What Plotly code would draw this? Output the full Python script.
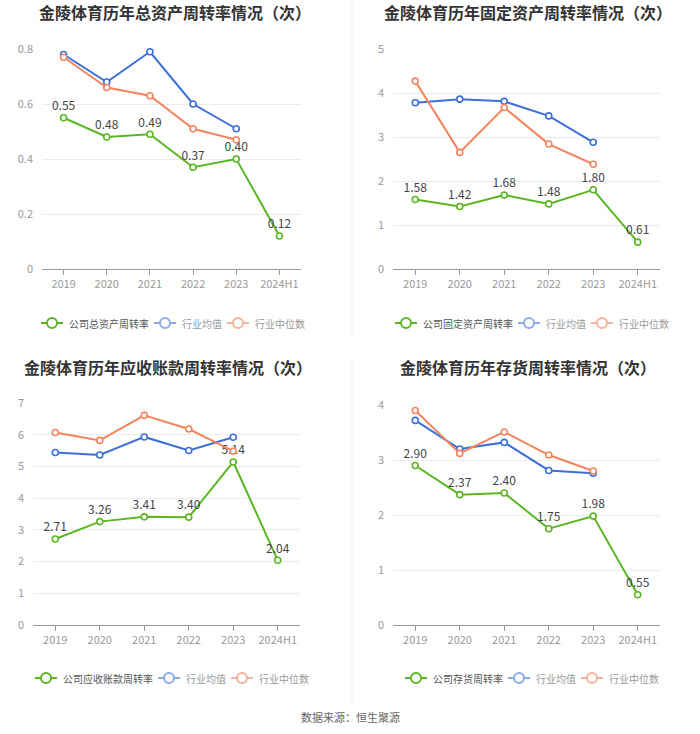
import plotly.graph_objects as go

categories = ["2019", "2020", "2021", "2022", "2023", "2024H1"]
ind_categories = ["2019", "2020", "2021", "2022", "2023"]

# Chart 1: total asset turnover
total_company = [0.55, 0.48, 0.49, 0.37, 0.40, 0.12]
total_avg = [0.78, 0.68, 0.79, 0.60, 0.51]
total_median = [0.77, 0.66, 0.63, 0.51, 0.47]

# Chart 2: fixed asset turnover
fixed_company = [1.58, 1.42, 1.68, 1.48, 1.80, 0.61]
fixed_avg = [3.78, 3.86, 3.81, 3.48, 2.88]
fixed_median = [4.27, 2.65, 3.67, 2.84, 2.38]

# Chart 3: receivables turnover
recv_company = [2.71, 3.26, 3.41, 3.40, 5.14, 2.04]
recv_avg = [5.44, 5.36, 5.93, 5.50, 5.92]
recv_median = [6.07, 5.82, 6.61, 6.18, 5.48]

# Chart 4: inventory turnover
inv_company = [2.90, 2.37, 2.40, 1.75, 1.98, 0.55]
inv_avg = [3.72, 3.20, 3.32, 2.81, 2.76]
inv_median = [3.90, 3.12, 3.51, 3.09, 2.80]

titles = ["金陵体育历年总资产周转率情况（次）", "金陵体育历年固定资产周转率情况（次）",
          "金陵体育历年应收账款周转率情况（次）", "金陵体育历年存货周转率情况（次）"]
company_names = ["公司总资产周转率", "公司固定资产周转率", "公司应收账款周转率", "公司存货周转率"]
industry_names = ["行业均值", "行业中位数"]
y_ranges = [[0, 0.8], [0, 5], [0, 7], [0, 4]]
y_dticks = [0.2, 1, 1, 1]

GREEN = "#5bb623"
BLUE = "#3c6fd9"
ORANGE = "#f2845e"
BLUE_L = "#8eaaeb"
ORANGE_L = "#f6b29a"
FONT = "Noto Sans CJK SC, Noto Sans, sans-serif"

W, H = 700, 734
def fx(px): return px / W
def fy(py): return 1 - py / H

panels = [
    dict(x0=42, x1=301, yt=49, yb=269, tx=175, ty=12, lx=41, ly=323),
    dict(x0=393, x1=660, yt=49, yb=269, tx=528, ty=12, lx=395, ly=323),
    dict(x0=33, x1=300, yt=403, yb=625, tx=168, ty=367, lx=35, ly=678),
    dict(x0=393, x1=660, yt=405, yb=625, tx=528, ty=367, lx=405, ly=678),
]

series = [
    (total_company, total_avg, total_median),
    (fixed_company, fixed_avg, fixed_median),
    (recv_company, recv_avg, recv_median),
    (inv_company, inv_avg, inv_median),
]

fig = go.Figure()
annotations = []
shapes = []
layout = dict(
    width=W, height=H, margin=dict(l=0, r=0, t=0, b=0, pad=0, autoexpand=False),
    paper_bgcolor="white", plot_bgcolor="white",
    font=dict(family=FONT, color="#333"),
    showlegend=False,
)


def legend_item(x, y, color, text, text_color):
    icon_w, gap, r = 22, 4, 5
    shapes.append(dict(type="line", xref="paper", yref="paper",
                       x0=fx(x), x1=fx(x + icon_w), y0=fy(y), y1=fy(y),
                       line=dict(color=color, width=2)))
    cx = x + icon_w / 2
    shapes.append(dict(type="circle", xref="paper", yref="paper",
                       x0=fx(cx - r), x1=fx(cx + r), y0=fy(y + r), y1=fy(y - r),
                       fillcolor="white", line=dict(color=color, width=2)))
    annotations.append(dict(text=text, x=fx(x + icon_w + gap), y=fy(y), xref="paper", yref="paper",
                            xanchor="left", yanchor="middle", showarrow=False,
                            font=dict(size=10, color=text_color, family=FONT)))
    return x + icon_w + gap + 10 * len(text) + 7


for i, (p, (comp, avg, med)) in enumerate(zip(panels, series)):
    n = i + 1
    xa = "x" if n == 1 else f"x{n}"
    ya = "y" if n == 1 else f"y{n}"
    labels = [f"{v:.2f}" for v in comp]
    fig.add_trace(go.Scatter(
        x=categories, y=comp, mode="lines+markers+text", name=company_names[i],
        text=labels, textposition="top center",
        textfont=dict(size=12, color="#444", family=FONT),
        line=dict(color=GREEN, width=2),
        marker=dict(symbol="circle", size=6, color="white", line=dict(color=GREEN, width=1.6)),
        xaxis=xa, yaxis=ya, cliponaxis=False,
    ))
    fig.add_trace(go.Scatter(
        x=ind_categories, y=avg, mode="lines+markers", name=industry_names[0],
        line=dict(color=BLUE, width=2),
        marker=dict(symbol="circle", size=6, color="white", line=dict(color=BLUE, width=1.6)),
        xaxis=xa, yaxis=ya, cliponaxis=False,
    ))
    fig.add_trace(go.Scatter(
        x=ind_categories, y=med, mode="lines+markers", name=industry_names[1],
        line=dict(color=ORANGE, width=2),
        marker=dict(symbol="circle", size=6, color="white", line=dict(color=ORANGE, width=1.6)),
        xaxis=xa, yaxis=ya, cliponaxis=False,
    ))

    xkey = "xaxis" if n == 1 else f"xaxis{n}"
    ykey = "yaxis" if n == 1 else f"yaxis{n}"
    layout[xkey] = dict(
        domain=[fx(p["x0"]), fx(p["x1"])], anchor=ya,
        type="category", categoryorder="array", categoryarray=categories,
        range=[-0.5, 5.5], showgrid=False, zeroline=False,
        showline=True, linecolor="#999", linewidth=1,
        ticks="outside", ticklen=5, tickcolor="#999",
        tickfont=dict(size=11, color="#999", family=FONT), fixedrange=True,
    )
    layout[ykey] = dict(
        domain=[fy(p["yb"]), fy(p["yt"])], anchor=xa,
        range=y_ranges[i], dtick=y_dticks[i], tick0=0,
        showgrid=True, gridcolor="#ebebeb", gridwidth=1, zeroline=False,
        showline=False, ticks="", ticklabelstandoff=8,
        tickfont=dict(size=11, color="#999", family=FONT), fixedrange=True,
    )
    lx = legend_item(p["lx"], p["ly"], GREEN, company_names[i], "#555")
    lx = legend_item(lx, p["ly"], BLUE_L, industry_names[0], "#999")
    legend_item(lx, p["ly"], ORANGE_L, industry_names[1], "#999")

    annotations.append(dict(
        text=f"<b>{titles[i]}</b>", x=fx(p["tx"]), y=fy(p["ty"]), xref="paper", yref="paper",
        xanchor="center", yanchor="middle", showarrow=False,
        font=dict(size=16, color="#333", family=FONT),
    ))

annotations.append(dict(
    text="数据来源：恒生聚源", x=0.5, y=fy(717), xref="paper", yref="paper",
    xanchor="center", yanchor="middle", showarrow=False,
    font=dict(size=11, color="#666", family=FONT),
))
shapes += [
    dict(type="line", xref="paper", yref="paper", x0=fx(352), x1=fx(352), y0=fy(0), y1=fy(340),
         line=dict(color="#f0f0f0", width=1)),
    dict(type="line", xref="paper", yref="paper", x0=fx(352), x1=fx(352), y0=fy(355), y1=fy(705),
         line=dict(color="#f0f0f0", width=1)),
]
layout["annotations"] = annotations
layout["shapes"] = shapes

fig.update_layout(**layout)
fig.write_html("out.html", config={"displayModeBar": False},
               post_script="document.body.style.margin='0';")
